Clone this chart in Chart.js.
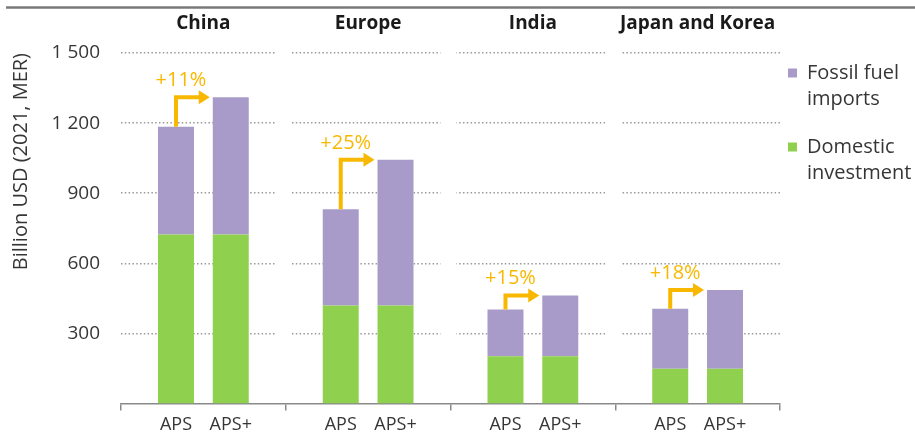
<!DOCTYPE html>
<html>
<head>
<meta charset="utf-8">
<script src="https://cdn.jsdelivr.net/npm/chart.js@4.4.1/dist/chart.umd.min.js"></script>
<style>
  body { margin: 0; background: #fff; }
  canvas { display: block; }
</style>
</head>
<body>
<canvas id="chart" width="915" height="436"></canvas>
<script>
var regions = ['China', 'Europe', 'India', 'Japan and Korea'];
var scenarios = ['APS', 'APS+'];
var domesticAPS = [724, 420, 203, 149];
var fossilAPS = [460, 411, 200, 257];
var domesticAPSplus = [724, 420, 203, 149];
var fossilAPSplus = [587, 623, 260, 337];
var changeLabels = ['+11%', '+25%', '+15%', '+18%'];
var yTicks = [300, 600, 900, 1200, 1500];
var seriesNames = ['Fossil fuel imports', 'Domestic investment'];
var legendLines = [['Fossil fuel', 'imports'], ['Domestic', 'investment']];

var purple = '#a99bc9';
var green = '#8fd14f';
var orange = '#f9b800';
var textColor = '#363636';
var fontFamily = '"Open Sans", Lato, sans-serif';

// rule at the top, grid breaks, scenario labels, arrows and legend
var decor = {
    id: 'decor',
    beforeDraw: function (chart) {
        var ctx = chart.ctx;
        ctx.save();
        ctx.strokeStyle = '#7a7a7a';
        ctx.lineWidth = 2.5;
        ctx.beginPath();
        ctx.moveTo(6, 7.5);
        ctx.lineTo(chart.width, 7.5);
        ctx.stroke();
        ctx.restore();
    },
    beforeDatasetsDraw: function (chart) {
        var ctx = chart.ctx, x = chart.scales.x, area = chart.chartArea;
        ctx.save();
        ctx.fillStyle = '#fff';
        for (var i = 0; i < regions.length - 1; i++) {
            var b = (x.getPixelForValue(i) + x.getPixelForValue(i + 1)) / 2;
            ctx.fillRect(b - 10, area.top - 4, 16, area.bottom - area.top);
        }
        ctx.restore();
    },
    afterDatasetsDraw: function (chart) {
        var ctx = chart.ctx, area = chart.chartArea;
        var aps = chart.getDatasetMeta(1).data;
        var plus = chart.getDatasetMeta(3).data;
        var i;
        ctx.save();
        ctx.font = '18px ' + fontFamily;
        ctx.textAlign = 'center';
        ctx.textBaseline = 'middle';
        ctx.fillStyle = textColor;
        for (i = 0; i < regions.length; i++) {
            ctx.fillText(scenarios[0], aps[i].x, area.bottom + 21);
            ctx.fillText(scenarios[1], plus[i].x, area.bottom + 21);
        }
        ctx.strokeStyle = orange;
        ctx.fillStyle = orange;
        ctx.lineWidth = 4;
        ctx.lineJoin = 'miter';
        ctx.font = '20px ' + fontFamily;
        for (i = 0; i < regions.length; i++) {
            var a = aps[i], p = plus[i];
            var tipX = p.x - p.width / 2 - 3;
            ctx.beginPath();
            ctx.moveTo(a.x, a.y);
            ctx.lineTo(a.x, p.y);
            ctx.lineTo(tipX - 9, p.y);
            ctx.stroke();
            ctx.beginPath();
            ctx.moveTo(tipX, p.y);
            ctx.lineTo(tipX - 11, p.y - 7);
            ctx.lineTo(tipX - 11, p.y + 7);
            ctx.closePath();
            ctx.fill();
            ctx.fillText(changeLabels[i], a.x + 5, p.y - 17);
        }
        // legend
        var colors = [purple, green];
        var tops = [area.top + 20, area.top + 94];
        ctx.textAlign = 'left';
        for (i = 0; i < legendLines.length; i++) {
            ctx.fillStyle = colors[i];
            ctx.fillRect(area.right + 8, tops[i] - 4.5, 9, 9);
            ctx.fillStyle = textColor;
            for (var j = 0; j < legendLines[i].length; j++) {
                ctx.fillText(legendLines[i][j], area.right + 27, tops[i] + j * 26.5);
            }
        }
        ctx.restore();
    }
};

var barOpts = {categoryPercentage: 0.665, barPercentage: 0.657, borderWidth: 0};

new Chart(document.getElementById('chart').getContext('2d'), {
    type: 'bar',
    data: {
        labels: regions,
        datasets: [
            Object.assign({label: seriesNames[1], data: domesticAPS, backgroundColor: green, stack: 'APS'}, barOpts),
            Object.assign({label: seriesNames[0], data: fossilAPS, backgroundColor: purple, stack: 'APS'}, barOpts),
            Object.assign({label: seriesNames[1], data: domesticAPSplus, backgroundColor: green, stack: 'APS+'}, barOpts),
            Object.assign({label: seriesNames[0], data: fossilAPSplus, backgroundColor: purple, stack: 'APS+'}, barOpts)
        ]
    },
    options: {
        animation: false,
        responsive: false,
        layout: {padding: {left: 0, right: 135, top: 0, bottom: 0}},
        plugins: {legend: {display: false}, tooltip: {enabled: false}},
        scales: {
            x: {
                stacked: true,
                offset: true,
                grid: {offset: true, drawOnChartArea: false, drawTicks: true, tickLength: 7, color: '#8a8a8a', lineWidth: 1.5},
                border: {display: true, color: '#8a8a8a', width: 1.5},
                ticks: {display: false},
                afterFit: function (s) { s.height = 32; }
            },
            xTop: {
                type: 'category',
                position: 'top',
                offset: true,
                grid: {display: false},
                border: {display: false},
                ticks: {
                    font: {family: fontFamily, size: 19, weight: 'bold'},
                    color: '#1a1a1a',
                    padding: 10,
                    autoSkip: false,
                    maxRotation: 0
                },
                afterFit: function (s) { s.height = 53; }
            },
            y: {
                stacked: true,
                min: 0,
                max: 1500,
                afterBuildTicks: function (s) {
                    s.ticks = yTicks.map(function (v) { return {value: v}; });
                },
                ticks: {
                    padding: 21,
                    color: textColor,
                    font: {family: fontFamily, size: 19},
                    callback: function (v) {
                        return String(v).replace(/\B(?=(\d{3})+(?!\d))/g, ' ');
                    }
                },
                grid: {drawTicks: false, color: '#9a9a9a', lineWidth: 1.5},
                border: {display: false, dash: [1.5, 2.3]},
                title: {
                    display: true,
                    text: 'Billion USD (2021, MER)',
                    align: 'end',
                    color: textColor,
                    font: {family: fontFamily, size: 20},
                    padding: {top: 9, bottom: 0}
                },
                afterFit: function (s) { s.width = 121; }
            }
        }
    },
    plugins: [decor]
});
</script>
</body>
</html>
